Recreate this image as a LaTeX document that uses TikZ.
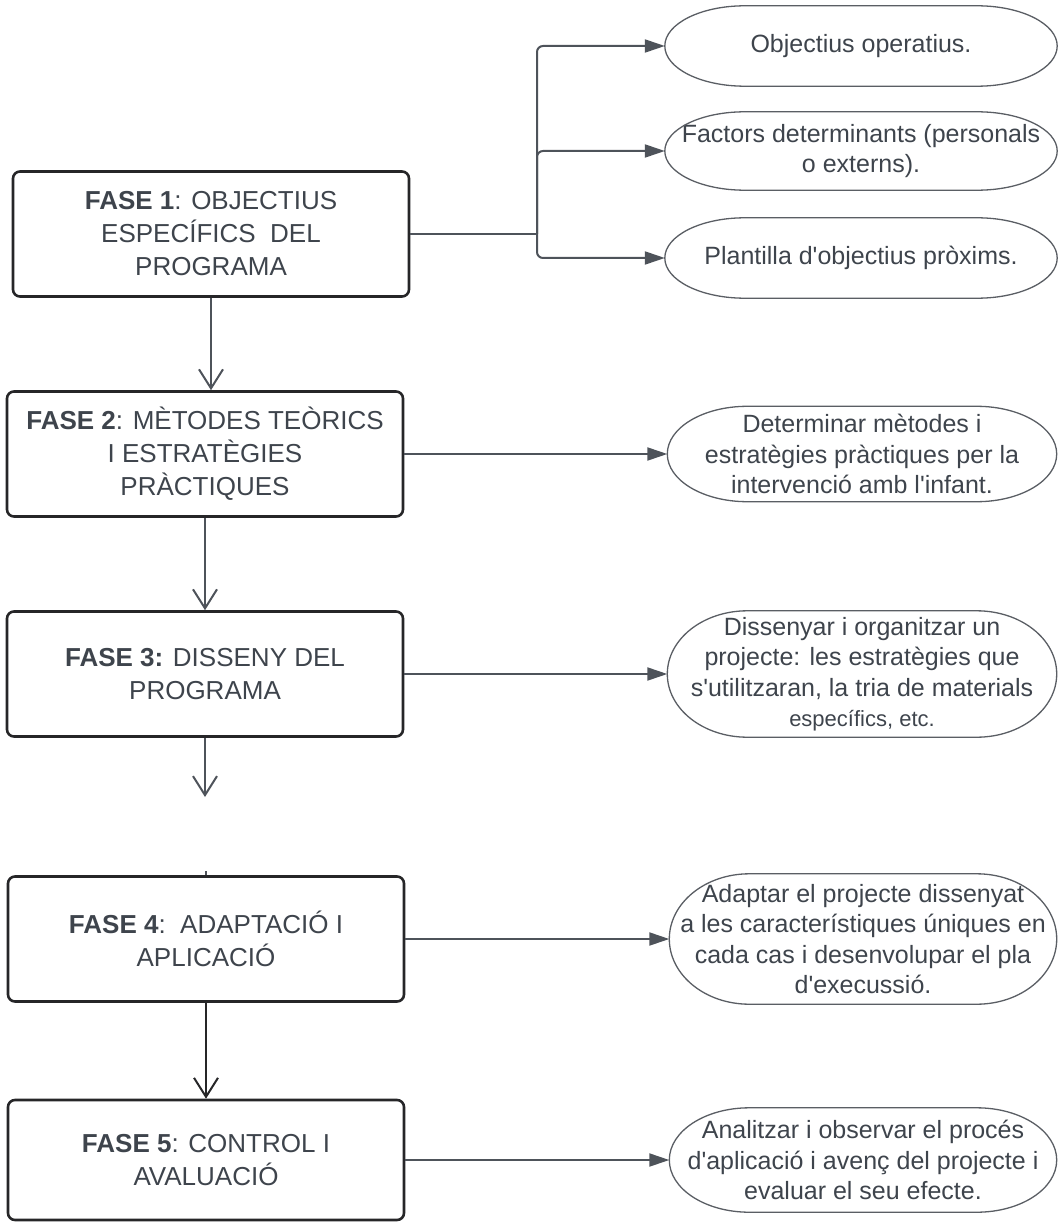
\documentclass[tikz,border=0pt]{standalone}
\usepackage{fontspec}
\setmainfont{Liberation Sans}
\usetikzlibrary{arrows.meta,calc}
\definecolor{txtgray}{RGB}{62,68,76}
\definecolor{boxline}{RGB}{38,38,40}
\definecolor{linegray}{RGB}{78,83,90}
\definecolor{ovalgray}{RGB}{90,94,100}

\begin{document}
\begin{tikzpicture}[
    x=1pt, y=-1pt,
    phase/.style={rectangle, draw=boxline, line width=2.6pt, rounded corners=7pt, minimum width=396pt, minimum height=#1, inner sep=0pt, text=txtgray, align=center, font=\fontsize{26}{33}\selectfont},
    phase/.default=125pt,
    oval/.style n args={2}{rectangle, inner sep=0pt, minimum width=#1, minimum height=#2, text=txtgray, align=center, font=\fontsize{25}{30.5}\selectfont},
    ovalline/.style={draw=ovalgray, line width=1.3pt},
    down/.style={-{Straight Barb[length=19pt,width=24pt]}, draw=linegray, line width=2pt},
    side/.style={-{Triangle[length=20pt,width=13pt]}, draw=linegray, line width=2pt}
]
\useasboundingbox (0,0) rectangle (1059,1222);

% Phases
\node[phase] (b1) at (211,234) {\textbf{FASE 1}: OBJECTIUS\\ESPECÍFICS\ \ DEL\\PROGRAMA};
\node[phase] (b2) at (205,454) {\textbf{FASE 2}: MÈTODES TEÒRICS\\I ESTRATÈGIES\\PRÀCTIQUES};
\node[phase] (b3) at (205,674) {\textbf{FASE 3:} DISSENY DEL\\PROGRAMA};
\node[phase] (b4) at (206,939) {\textbf{FASE 4}:\ \ ADAPTACIÓ I\\APLICACIÓ};
\node[phase=120pt] (b5) at (206,1160) {\textbf{FASE 5}: CONTROL I\\AVALUACIÓ};

% Outcomes
\node[oval={392pt}{80pt}] (e1) at (861,46) {Objectius operatius.};
\node[oval={392pt}{78pt}] (e2) at (861,151) {Factors determinants (personals\\o externs).};
\node[oval={392pt}{80pt}] (e3) at (861,258) {Plantilla d\textquotesingle objectius pròxims.};
\node[oval={389pt}{95pt}] (e4) at (862,454) {Determinar mètodes i\\estratègies pràctiques per la\\intervenció amb l\textquotesingle infant.};
\node[oval={389pt}{126pt}] (e5) at (862,674) {Dissenyar i organitzar un\\projecte: les estratègies que\\s\textquotesingle utilitzaran, la tria de materials\\{\fontsize{22}{28}\selectfont específics, etc.}};
\node[oval={387pt}{130pt}] (e6) at (863,939) {Adaptar el projecte dissenyat\\a les característiques úniques en\\cada cas i desenvolupar el pla\\d\textquotesingle execussió.};
\node[oval={387pt}{104pt}] (e7) at (863,1160) {Analitzar i observar el procés\\d\textquotesingle aplicació i avenç del projecte i\\evaluar el seu efecte.};

% oval outlines, flat along the top and bottom
\foreach \o in {e1,e2,e3,e4,e5,e6,e7} {
    \draw[ovalline] let \p1=($(\o.north east)-(\o.center)$) in
        ([xshift=80pt]\o.north west) -- ([xshift=-80pt]\o.north east)
        arc[start angle=90, end angle=-90, x radius=80pt, y radius=\y1]
        -- ([xshift=80pt]\o.south west)
        arc[start angle=270, end angle=90, x radius=80pt, y radius=\y1] -- cycle;
}

% Arrows
\coordinate (fork) at (537,234);
\coordinate (gap) at (b3.south |- 0,797);
\coordinate (stub) at (b4.north |- 0,871);

\draw[draw=linegray, line width=2pt] (b1.east) -- (fork);
\foreach \e in {e1,e2,e3} {
    \draw[side, rounded corners=6pt] (fork) |- (\e.west);
}
\foreach \i/\j in {b2/e4, b3/e5, b4/e6, b5/e7} {
    \draw[side] (\i.east) -- (\j.west);
}
\foreach \i/\j in {b1/b2, b2/b3} {
    \draw[down] (\i.south) -- (\i.south |- \j.north);
}
\draw[down] (b3.south) -- (gap);
\draw[draw=linegray, line width=1.5pt] (stub) -- (b4.north);
\draw[down, draw=boxline] (b4.south) -- (b4.south |- b5.north);

\end{tikzpicture}
\end{document}
